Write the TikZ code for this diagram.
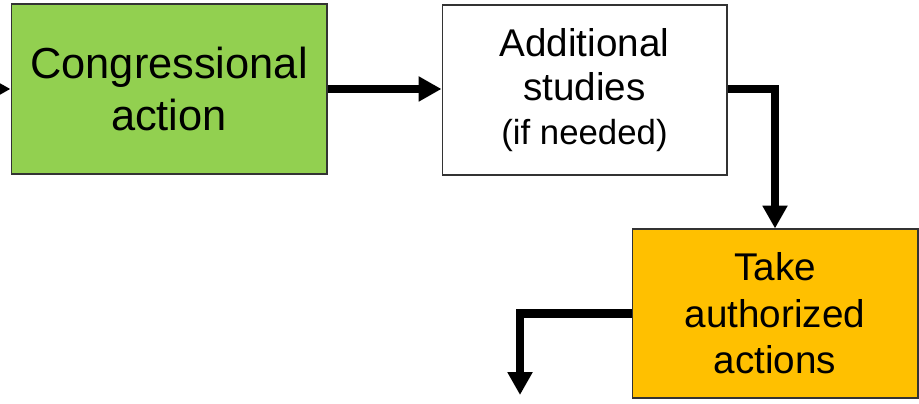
\documentclass[tikz,border=0pt]{standalone}
\usepackage{fontspec}
\setmainfont{Liberation Sans}
\usetikzlibrary{arrows.meta}
\definecolor{actgreen}{RGB}{146,208,80}
\definecolor{actorange}{RGB}{255,192,0}
\def\lw{4.8pt}

\begin{document}
\begin{tikzpicture}[x=0.02cm,y=-0.02cm,
  box/.style={draw=black!80,line width=0.6pt,align=center,inner sep=0pt,minimum height=3.4cm},
  flow/.style={line width=\lw,-{Triangle[length=13pt,width=13.5pt]}}]
\clip (0,0) rectangle (919,404);

\node[box,fill=actgreen,minimum width=6.32cm,font=\fontsize{24.7}{30}\selectfont] (cong) at (169,89) {Congressional\\action};
\node[box,fill=white,minimum width=5.7cm,font=\fontsize{22}{25.2}\selectfont] (stud) at (584.5,90) {Additional\\studies\\{\fontsize{19.8}{25.2}\selectfont (if needed)}};
\node[box,fill=actorange,minimum width=5.72cm,minimum height=3.38cm,font=\fontsize{22}{26.5}\selectfont] (take) at (775,313.5) {Take\\authorized\\actions};

\coordinate (in) at (-40,89);
\coordinate (out) at (520,395);

\draw[flow] (in) -- (cong);
\draw[flow] (cong) -- (stud.west |- cong);
\draw[flow] (stud.east |- cong) -| (take.north);
\draw[flow] (take.west) -| (out);
\end{tikzpicture}
\end{document}
